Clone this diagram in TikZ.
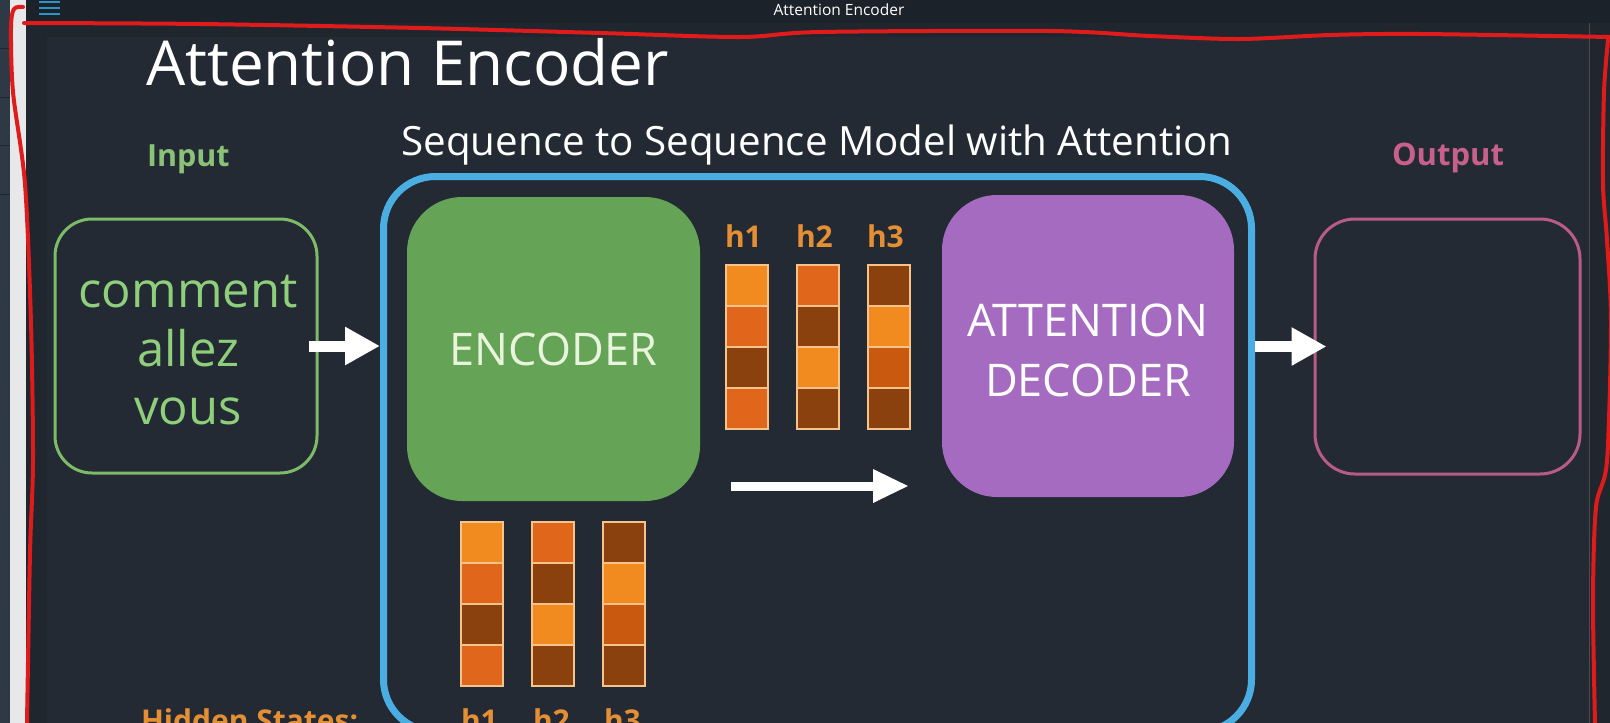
\documentclass[tikz,border=0pt]{standalone}
\usepackage{fontspec}
\setmainfont{Open Sans}
\usetikzlibrary{arrows.meta}
\newcommand\fsz[1]{\fontsize{#1}{#1}\selectfont}
\definecolor{outerbg}{HTML}{1F262D}
\definecolor{slidebg}{HTML}{232A33}
\definecolor{topbar}{HTML}{1C2229}
\definecolor{sidedark}{HTML}{2E3945}
\definecolor{sidelight}{HTML}{E7E8EA}
\definecolor{menublue}{HTML}{2A94C8}
\definecolor{ingreen}{HTML}{7DBB69}
\definecolor{intext}{HTML}{8FCF7C}
\definecolor{seqblue}{HTML}{4AAEE3}
\definecolor{encgreen}{HTML}{65A457}
\definecolor{enctext}{HTML}{E8F5DC}
\definecolor{decpurple}{HTML}{A56BC0}
\definecolor{outpink}{HTML}{B85C86}
\definecolor{outlbl}{HTML}{C7608D}
\definecolor{hstate}{HTML}{E58F35}
\definecolor{cL}{HTML}{F28B1F}
\definecolor{cM}{HTML}{E0661B}
\definecolor{cD}{HTML}{8B410E}
\definecolor{cN}{HTML}{C9590F}
\definecolor{cellborder}{HTML}{F6C48A}
\definecolor{annot}{HTML}{E01B1B}
\newcommand\hstatecol[3]{%
  \foreach \cc [count=\ii from 0] in {#3} {%
    \fill[\cc] (#1,{#2+\ii*41}) rectangle ++(42,41);
    \draw[cellline] (#1,{#2+\ii*41}) rectangle ++(42,41);
  }}
\begin{document}
\begin{tikzpicture}[x=1pt,y=-1pt,
  lbl/.style={inner sep=0pt, outer sep=0pt},
  bigarrow/.style={draw=white, line width=11pt, -{Triangle[length=35pt,width=36pt]}},
  midarrow/.style={draw=white, line width=9pt, -{Triangle[length=36pt,width=31pt]}},
  cellline/.style={draw=cellborder, line width=1.3pt},
  redmark/.style={draw=annot, line width=4pt, line cap=round, line join=round},
  hlabel/.style={lbl, anchor=base west, text=hstate, font=\bfseries\fsz{30}},
  roundbox/.style={rectangle, inner sep=0pt},
]
\useasboundingbox (0,0) rectangle (1610,723);
\clip (0,0) rectangle (1610,723);
% backgrounds
\fill[outerbg] (0,0) rectangle (1610,723);
\fill[slidebg] (47,37) rectangle (1589,723);
\draw[black!70, line width=1pt] (1589,23) -- (1589,723);
\fill[topbar] (26,0) rectangle (1610,23);
\fill[sidedark] (0,0) rectangle (10,723);
\foreach \yy in {48,97,145,194} \draw[outerbg, line width=1pt] (0,\yy) -- (10,\yy);
\fill[sidelight] (10,0) rectangle (26,723);
\foreach \yy in {0.5,6.5,12.5} \fill[menublue] (39,\yy) rectangle (60,\yy+2.5);
\node[lbl, text=white, font=\fsz{15.5}] (barttl) at (839,10) {Attention Encoder};
% titles
\node[lbl, anchor=base west, text=white, font=\fsz{62}] (title) at (146,85) {Attention Encoder};
\node[lbl, anchor=base, text=white, font=\fsz{40.3}] (seqttl) at (817,155) {Sequence to Sequence Model with Attention};
\node[lbl, anchor=base west, text=ingreen!90!white, font=\bfseries\fsz{30.5}] (inlbl) at (147,166) {Input};
\node[lbl, anchor=base west, text=outlbl, font=\bfseries\fsz{31}] (outlbl) at (1392,165) {Output};
% input box
\node[roundbox, draw=ingreen, line width=3pt, rounded corners=37pt, minimum width=262pt, minimum height=254pt] (inbox) at (186,346) {};
\node[lbl, anchor=base, text=intext, font=\fsz{49}] (in1) at (188,307) {comment};
\node[lbl, anchor=base, text=intext, font=\fsz{49}] (in2) at (188,366) {allez};
\node[lbl, anchor=base, text=intext, font=\fsz{49}] (in3) at (188,424) {vous};
% seq box
\node[roundbox, draw=seqblue, line width=7pt, rounded corners=52pt, minimum width=868pt, minimum height=555pt] (seqbox) at (817.5,454) {};
% encoder / decoder
\node[roundbox, fill=encgreen, rounded corners=55pt, minimum width=293pt, minimum height=304pt, text=enctext, font=\fsz{45}] (enc) at (553.5,349) {ENCODER};
\node[roundbox, fill=decpurple, rounded corners=55pt, minimum width=292pt, minimum height=302pt] (dec) at (1088,346) {};
\node[lbl, anchor=base, text=white, font=\fsz{45}] (dec1) at (1088,336) {ATTENTION};
\node[lbl, anchor=base, text=white, font=\fsz{45}] (dec2) at (1088,396) {DECODER};
% output box
\node[roundbox, draw=outpink, line width=3pt, rounded corners=40pt, minimum width=265pt, minimum height=255pt] (outbox) at (1447.5,346.5) {};
% hidden states (top)
\hstatecol{726}{265}{cL,cM,cD,cM}
\hstatecol{797}{265}{cM,cD,cL,cD}
\hstatecol{868}{265}{cD,cL,cN,cD}
\node[hlabel] (th1) at (725,247) {h1};
\node[hlabel] (th2) at (796,247) {h2};
\node[hlabel] (th3) at (867,247) {h3};
% hidden states (bottom)
\hstatecol{461}{522}{cL,cM,cD,cM}
\hstatecol{532}{522}{cM,cD,cL,cD}
\hstatecol{603}{522}{cD,cL,cN,cD}
\node[hlabel] (bh1) at (461,731) {h1};
\node[hlabel] (bh2) at (533,731) {h2};
\node[hlabel] (bh3) at (604,731) {h3};
\node[hlabel] (hid) at (141,731) {Hidden States:};
% arrows
\draw[bigarrow] ([xshift=-10pt]inbox.east) -- (inbox.east -| seqbox.west);
\draw[bigarrow] (seqbox.east |- outbox.west) -- ([xshift=13pt]outbox.west);
\coordinate (ms) at (731,486);
\coordinate (me) at (909,486);
\draw[midarrow] (ms) -- (me);
% red annotation marks
\draw[redmark] plot[smooth] coordinates {(24,23) (200,24) (420,28) (600,33) (740,37) (820,32) (1050,31) (1150,36) (1240,39) (1330,35) (1420,34) (1610,37)};
\draw[redmark] plot[smooth] coordinates {(23,7) (14,9) (11,28) (13,92) (25,184) (31,323) (33,461) (30,553) (27,723)};
\draw[redmark] plot[smooth] coordinates {(1608,40) (1604,92) (1603,184) (1607,240) (1611,323) (1607,461) (1596,507) (1593,599) (1595,723)};
\end{tikzpicture}
\end{document}
